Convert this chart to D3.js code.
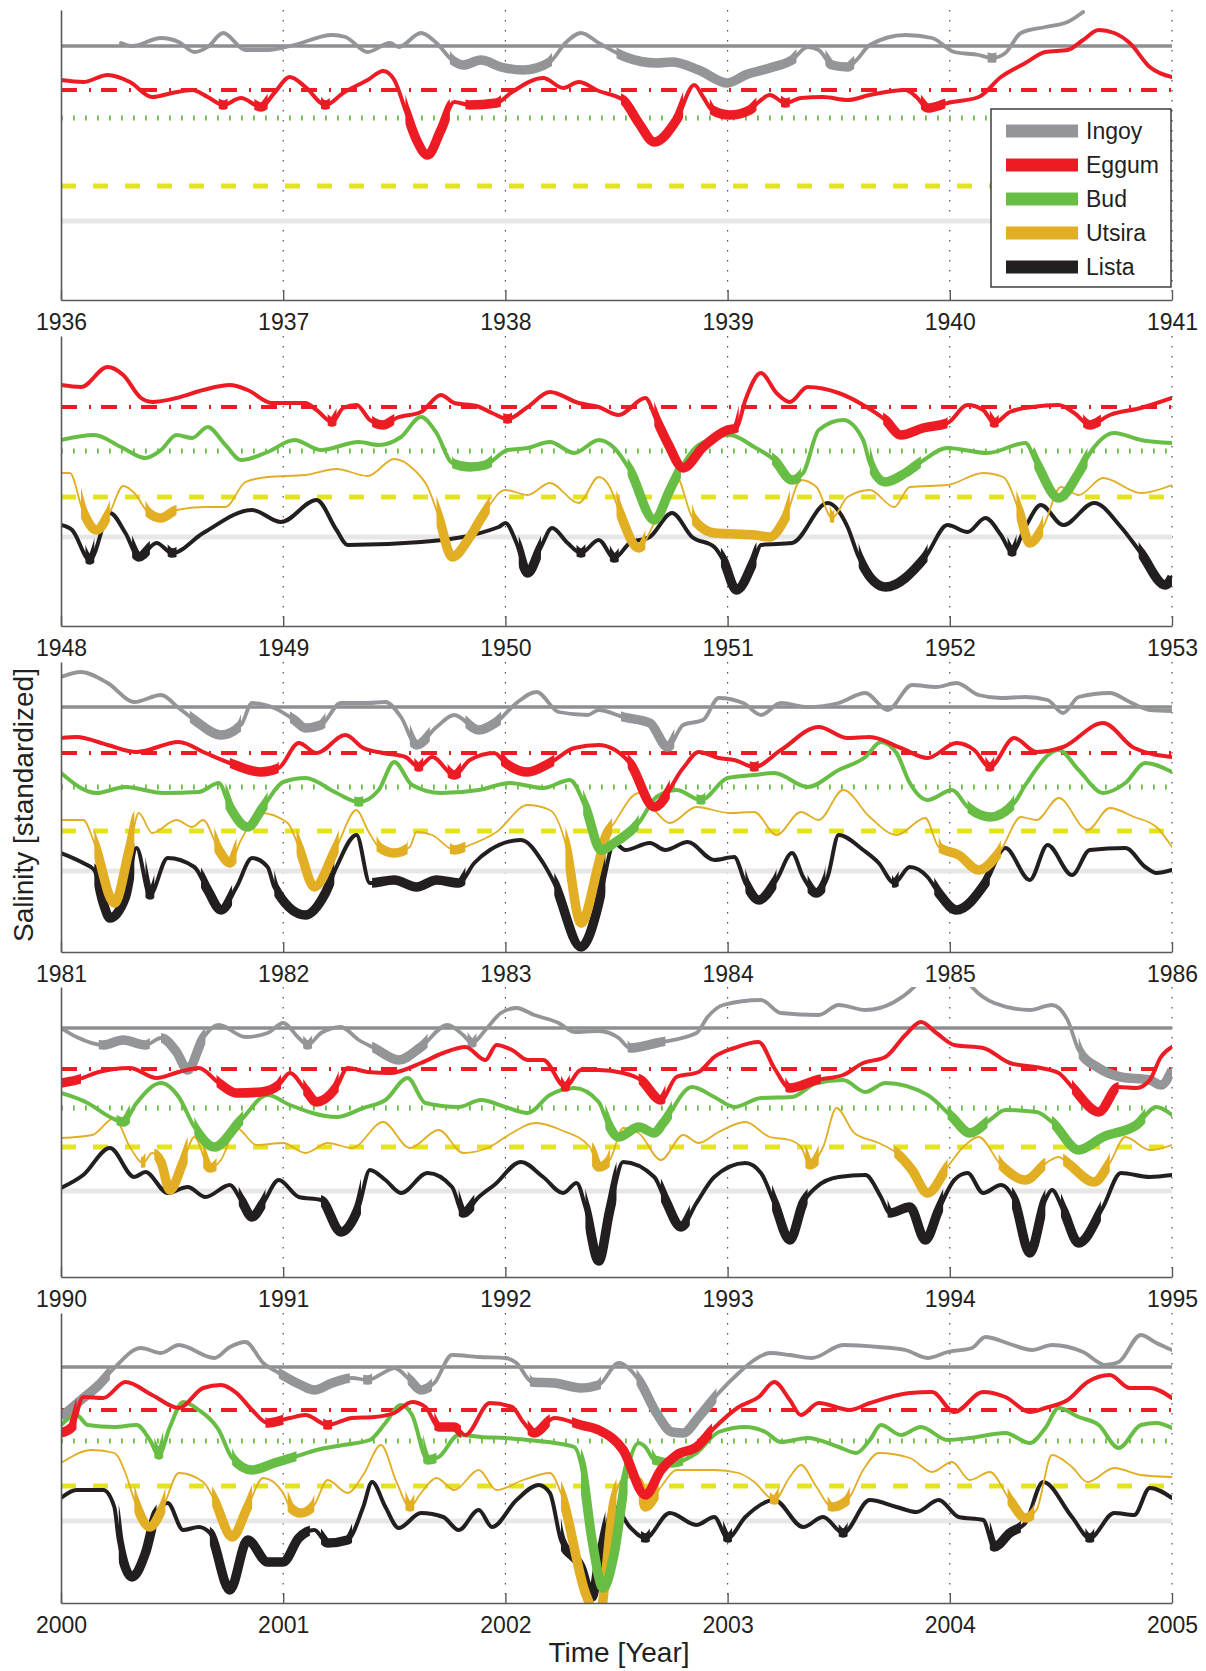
<!DOCTYPE html>
<html>
<head>
<meta charset="utf-8">
<script src="https://cdn.jsdelivr.net/npm/d3@7"></script>
<style>
  body { margin: 0; background: #fff; }
  text { font-family: "Liberation Sans", Arial, sans-serif; fill: #231f20; }
</style>
</head>
<body>
<div id="chart"></div>
<script>
var stations = ["Ingoy", "Eggum", "Bud", "Utsira", "Lista"];
var panelYears = [1936, 1948, 1981, 1990, 2000];
var tickYears = [
  [1936, 1937, 1938, 1939, 1940, 1941],
  [1948, 1949, 1950, 1951, 1952, 1953],
  [1981, 1982, 1983, 1984, 1985, 1986],
  [1990, 1991, 1992, 1993, 1994, 1995],
  [2000, 2001, 2002, 2003, 2004, 2005]
];
// threshold level of each station (Ingoy, Eggum, Bud, Utsira, Lista), per panel
var thresholds = [
  [25.4, 21.0, 18.2, 11.4, 7.9],
  [null, 21.9, 17.5, 12.9, 8.9],
  [24.5, 19.9, 16.5, 12.1, 8.1],
  [24.9, 20.8, 16.9, 13.0, 8.6],
  [23.6, 19.3, 16.2, 11.7, 8.2]
];

// ---- 1936-1941
var ingoy_1936 = [[1936.27,25.7],[1936.32,25.4],[1936.45,26.2],[1936.53,25.8],[1936.60,24.8],[1936.66,25.3],[1936.73,26.7],[1936.83,25.0],[1936.93,25.0],[1937.05,25.5],[1937.22,26.5],[1937.28,26.3],[1937.38,24.8],[1937.48,25.7],[1937.52,25.3],[1937.62,26.7],[1937.69,25.7],[1937.76,24.0],[1937.81,23.5],[1937.89,24.0],[1937.98,23.3],[1938.08,23.0],[1938.20,23.8],[1938.27,25.7],[1938.34,26.7],[1938.42,25.7],[1938.54,24.3],[1938.68,23.7],[1938.75,23.8],[1938.87,23.0],[1939.00,21.7],[1939.08,22.5],[1939.19,23.2],[1939.29,24.0],[1939.36,25.3],[1939.41,25.0],[1939.47,23.5],[1939.54,23.3],[1939.58,24.0],[1939.64,25.5],[1939.80,26.5],[1939.92,26.2],[1940.02,24.8],[1940.13,24.5],[1940.19,24.2],[1940.25,24.7],[1940.32,26.7],[1940.43,27.3],[1940.53,27.8],[1940.60,28.8]];
var ingoy_1936_low = [[1937.75,1938.21],[1938.5,1939.31],[1939.44,1939.57],[1940.17,1940.21]];
var eggum_1936 = [[1936.0,22.0],[1936.10,21.8],[1936.21,22.5],[1936.31,21.8],[1936.41,20.3],[1936.50,20.7],[1936.59,21.0],[1936.66,20.3],[1936.73,19.5],[1936.81,20.2],[1936.90,19.3],[1936.96,20.7],[1937.03,22.3],[1937.10,21.3],[1937.19,19.5],[1937.27,20.7],[1937.38,22.0],[1937.45,22.9],[1937.50,22.0],[1937.55,19.0],[1937.60,16.0],[1937.65,14.5],[1937.71,17.0],[1937.77,19.8],[1937.84,19.5],[1937.96,19.7],[1938.03,20.8],[1938.17,22.2],[1938.26,21.2],[1938.33,21.8],[1938.42,20.9],[1938.53,20.0],[1938.60,17.7],[1938.67,15.8],[1938.77,18.0],[1938.85,21.5],[1938.89,20.3],[1938.93,19.0],[1939.01,18.5],[1939.10,19.0],[1939.14,19.8],[1939.19,20.5],[1939.26,19.7],[1939.33,20.2],[1939.43,20.3],[1939.54,20.0],[1939.64,20.5],[1939.80,21.0],[1939.85,20.3],[1939.90,19.2],[1939.99,19.7],[1940.13,20.3],[1940.23,22.3],[1940.34,23.7],[1940.43,24.8],[1940.53,25.0],[1940.60,26.0],[1940.67,27.0],[1940.74,26.7],[1940.81,25.7],[1940.90,23.3],[1941.0,22.3]];
var eggum_1936_low = [[1936.71,1936.75],[1936.87,1936.93],[1937.17,1937.21],[1937.55,1937.75],[1937.82,1937.98],[1938.52,1938.80],[1938.92,1939.13],[1939.24,1939.28],[1939.87,1939.98]];

// ---- 1948-1953
var eggum_1948 = [[1948.0,24.1],[1948.09,23.9],[1948.21,25.9],[1948.28,25.1],[1948.36,22.8],[1948.41,22.4],[1948.52,22.8],[1948.64,23.6],[1948.76,24.1],[1948.84,23.6],[1948.95,22.3],[1949.10,22.3],[1949.15,21.6],[1949.22,20.4],[1949.27,21.8],[1949.33,22.1],[1949.39,20.6],[1949.45,20.1],[1949.51,20.8],[1949.62,21.4],[1949.71,23.1],[1949.77,22.3],[1949.87,22.0],[1949.94,21.3],[1950.01,20.7],[1950.10,21.9],[1950.20,23.4],[1950.33,22.3],[1950.42,21.9],[1950.51,21.1],[1950.63,22.8],[1950.68,20.6],[1950.73,18.3],[1950.80,15.8],[1950.89,17.9],[1951.00,19.6],[1951.04,19.8],[1951.08,22.6],[1951.15,25.3],[1951.22,23.3],[1951.28,22.4],[1951.36,23.9],[1951.50,23.3],[1951.61,22.1],[1951.71,20.6],[1951.78,19.1],[1951.88,19.8],[1951.99,20.3],[1952.08,22.1],[1952.15,21.6],[1952.20,20.3],[1952.27,21.4],[1952.37,21.9],[1952.49,22.1],[1952.56,21.3],[1952.63,20.1],[1952.72,21.1],[1952.86,21.8],[1953.0,22.8]];
var eggum_1948_low = [[1949.20,1949.24],[1949.40,1949.50],[1949.99,1950.03],[1950.67,1951.05],[1951.70,1951.99],[1952.18,1952.22],[1952.60,1952.68]];
var bud_1948 = [[1948.0,18.6],[1948.15,19.1],[1948.27,17.9],[1948.38,16.8],[1948.45,17.6],[1948.52,19.1],[1948.59,18.8],[1948.66,19.9],[1948.74,18.1],[1948.81,16.6],[1948.93,17.4],[1949.05,18.6],[1949.17,17.6],[1949.34,18.4],[1949.43,18.1],[1949.53,18.9],[1949.62,20.9],[1949.69,19.3],[1949.76,16.3],[1949.84,15.9],[1949.91,16.1],[1950.01,17.6],[1950.10,17.8],[1950.20,18.4],[1950.31,17.3],[1950.42,18.6],[1950.49,17.8],[1950.56,15.6],[1950.67,10.6],[1950.74,13.6],[1950.79,15.8],[1950.87,18.1],[1951.01,19.1],[1951.12,17.9],[1951.21,16.6],[1951.29,14.6],[1951.34,15.3],[1951.41,19.6],[1951.52,20.6],[1951.61,18.6],[1951.64,16.3],[1951.71,14.4],[1951.80,15.3],[1951.87,16.4],[1951.99,17.8],[1952.17,17.3],[1952.34,18.3],[1952.39,16.3],[1952.49,12.8],[1952.58,15.3],[1952.64,17.6],[1952.74,19.3],[1952.86,18.6],[1953.0,18.3]];
var bud_1948_low = [[1949.76,1949.94],[1950.55,1950.79],[1951.20,1951.33],[1951.64,1951.87],[1952.38,1952.62]];
var utsira_1948 = [[1948.0,15.3],[1948.04,15.3],[1948.10,11.4],[1948.16,9.6],[1948.22,11.4],[1948.28,14.0],[1948.33,13.3],[1948.39,11.4],[1948.45,10.8],[1948.52,11.6],[1948.65,11.9],[1948.74,11.9],[1948.83,14.4],[1948.93,14.9],[1949.10,15.1],[1949.24,15.7],[1949.38,15.0],[1949.50,16.7],[1949.59,15.6],[1949.65,13.9],[1949.70,10.9],[1949.76,6.9],[1949.84,8.9],[1949.90,11.1],[1950.00,13.6],[1950.10,13.1],[1950.20,14.3],[1950.33,12.3],[1950.42,14.9],[1950.47,13.9],[1950.51,11.6],[1950.60,7.8],[1950.67,10.3],[1950.77,14.9],[1950.84,10.9],[1950.94,9.3],[1951.12,9.1],[1951.19,8.9],[1951.26,10.8],[1951.33,14.6],[1951.40,13.9],[1951.47,10.8],[1951.54,12.9],[1951.64,13.6],[1951.75,11.9],[1951.82,13.9],[1951.99,14.1],[1952.15,15.3],[1952.24,14.9],[1952.31,11.6],[1952.36,8.3],[1952.42,9.9],[1952.50,13.9],[1952.58,13.1],[1952.69,14.8],[1952.86,13.3],[1953.0,14.1]];
var utsira_1948_low = [[1948.09,1948.22],[1948.38,1948.52],[1949.69,1949.93],[1950.50,1950.63],[1950.84,1951.28],[1951.46,1951.48],[1952.30,1952.42]];
var lista_1948 = [[1948.0,10.1],[1948.05,9.6],[1948.13,6.6],[1948.22,11.3],[1948.29,9.3],[1948.35,6.9],[1948.43,8.3],[1948.50,7.3],[1948.64,9.3],[1948.86,11.6],[1948.99,10.4],[1949.15,12.6],[1949.24,9.6],[1949.29,8.1],[1949.62,8.4],[1949.97,9.9],[1950.0,10.3],[1950.05,8.3],[1950.10,5.3],[1950.16,7.9],[1950.21,9.8],[1950.28,8.3],[1950.34,7.3],[1950.42,8.6],[1950.49,6.8],[1950.56,8.3],[1950.65,8.9],[1950.75,11.3],[1950.84,8.9],[1950.94,7.9],[1950.98,6.6],[1951.04,3.6],[1951.12,6.6],[1951.15,8.1],[1951.29,8.3],[1951.45,12.3],[1951.54,9.9],[1951.59,6.9],[1951.71,3.9],[1951.89,6.9],[1951.99,10.1],[1952.08,9.4],[1952.16,10.8],[1952.23,9.1],[1952.28,7.4],[1952.34,9.9],[1952.41,12.1],[1952.51,10.1],[1952.65,12.3],[1952.77,9.9],[1952.86,7.3],[1952.97,4.1],[1953.0,4.9]];
var lista_1948_low = [[1948.11,1948.15],[1948.32,1948.40],[1948.48,1948.52],[1950.06,1950.16],[1950.32,1950.36],[1950.47,1950.51],[1950.97,1951.13],[1951.59,1951.90],[1952.26,1952.30],[1952.85,1953.0]];

// ---- 1981-1986
var ingoy_1981 = [[1981.0,27.5],[1981.09,28.0],[1981.21,26.9],[1981.33,25.0],[1981.45,25.7],[1981.53,24.4],[1981.60,23.2],[1981.72,21.7],[1981.81,22.7],[1981.86,24.9],[1981.96,24.4],[1982.05,23.2],[1982.10,22.4],[1982.17,22.7],[1982.26,24.9],[1982.38,24.9],[1982.46,25.0],[1982.53,23.5],[1982.60,20.7],[1982.69,22.5],[1982.77,23.7],[1982.88,22.2],[1982.96,23.0],[1983.05,24.9],[1983.14,26.0],[1983.24,24.0],[1983.37,23.7],[1983.42,24.2],[1983.53,23.5],[1983.65,22.9],[1983.73,20.5],[1983.80,22.7],[1983.89,23.2],[1983.96,25.4],[1984.07,24.9],[1984.15,23.7],[1984.24,24.9],[1984.36,24.5],[1984.50,24.9],[1984.62,25.9],[1984.72,24.2],[1984.83,26.7],[1984.94,26.5],[1985.03,26.9],[1985.13,25.7],[1985.23,25.4],[1985.34,25.5],[1985.44,25.2],[1985.51,23.9],[1985.58,25.5],[1985.72,25.9],[1985.81,25.0],[1985.90,24.2],[1986.0,24.1]];
var ingoy_1981_low = [[1981.58,1981.81],[1982.03,1982.19],[1982.57,1982.66],[1982.82,1982.98],[1983.52,1983.76]];
var eggum_1981 = [[1981.0,21.4],[1981.07,21.5],[1981.21,20.7],[1981.34,20.0],[1981.53,21.0],[1981.65,19.9],[1981.76,18.9],[1981.90,18.0],[1981.98,18.4],[1982.07,20.9],[1982.15,19.9],[1982.28,21.7],[1982.36,20.4],[1982.45,19.9],[1982.55,19.5],[1982.61,18.5],[1982.67,19.5],[1982.77,17.7],[1982.84,19.2],[1982.95,19.9],[1983.00,18.9],[1983.10,18.0],[1983.20,18.9],[1983.31,20.4],[1983.42,20.7],[1983.56,18.9],[1983.67,14.5],[1983.80,18.4],[1983.87,20.0],[1983.96,19.4],[1984.03,19.2],[1984.12,18.5],[1984.24,20.2],[1984.41,22.5],[1984.54,21.4],[1984.64,21.5],[1984.78,20.4],[1984.90,19.4],[1985.03,20.9],[1985.11,20.2],[1985.18,18.5],[1985.29,21.4],[1985.39,20.0],[1985.51,20.5],[1985.69,22.9],[1985.83,20.4],[1986.0,19.5]];
var eggum_1981_low = [[1981.76,1981.98],[1982.59,1982.63],[1982.74,1982.80],[1982.98,1983.22],[1983.55,1983.74],[1984.10,1984.14],[1985.16,1985.20]];
var bud_1981 = [[1981.0,17.9],[1981.16,15.9],[1981.29,16.5],[1981.46,15.9],[1981.62,16.0],[1981.71,16.9],[1981.76,14.5],[1981.84,12.5],[1981.91,14.5],[1982.00,17.0],[1982.10,17.4],[1982.24,15.9],[1982.34,15.0],[1982.43,16.2],[1982.50,19.0],[1982.58,16.7],[1982.71,15.9],[1982.88,16.2],[1983.02,16.9],[1983.17,16.4],[1983.29,17.2],[1983.36,14.5],[1983.43,10.2],[1983.49,10.9],[1983.60,12.9],[1983.68,15.5],[1983.77,16.2],[1983.88,15.2],[1984.00,17.4],[1984.12,17.7],[1984.21,17.9],[1984.36,16.5],[1984.50,18.2],[1984.62,19.5],[1984.69,21.0],[1984.76,19.9],[1984.82,16.9],[1984.90,15.2],[1985.01,16.2],[1985.08,14.5],[1985.18,13.5],[1985.29,14.9],[1985.34,16.7],[1985.49,20.2],[1985.58,18.2],[1985.69,15.9],[1985.79,16.9],[1985.88,18.9],[1986.0,18.0]];
var bud_1981_low = [[1981.74,1981.93],[1982.32,1982.36],[1983.35,1983.60],[1983.86,1983.90],[1985.08,1985.29]];
var utsira_1981 = [[1981.0,13.2],[1981.10,13.2],[1981.15,10.9],[1981.24,4.9],[1981.31,10.5],[1981.35,13.9],[1981.41,11.9],[1981.52,13.2],[1981.59,12.5],[1981.64,13.2],[1981.71,10.2],[1981.76,8.9],[1981.81,11.2],[1981.90,13.9],[1982.02,12.9],[1982.07,10.5],[1982.14,6.5],[1982.24,10.5],[1982.33,14.2],[1982.38,12.2],[1982.43,10.5],[1982.50,9.9],[1982.57,10.5],[1982.60,12.0],[1982.67,11.7],[1982.77,10.2],[1982.84,10.7],[1982.96,12.0],[1983.10,14.7],[1983.20,14.2],[1983.27,10.9],[1983.34,2.9],[1983.42,8.9],[1983.45,11.5],[1983.49,12.9],[1983.60,15.9],[1983.67,14.2],[1983.74,12.9],[1983.86,14.5],[1984.01,13.9],[1984.12,14.0],[1984.22,11.7],[1984.33,14.0],[1984.41,13.2],[1984.52,16.2],[1984.64,13.5],[1984.76,11.7],[1984.89,13.4],[1984.95,10.5],[1985.04,9.7],[1985.13,8.2],[1985.23,10.2],[1985.32,13.5],[1985.39,13.2],[1985.49,15.4],[1985.62,12.2],[1985.72,14.4],[1985.83,13.5],[1985.93,12.5],[1986.0,10.5]];
var utsira_1981_low = [[1981.15,1981.33],[1981.69,1981.79],[1982.06,1982.25],[1982.42,1982.56],[1982.75,1982.82],[1983.27,1983.48],[1984.95,1985.23]];
var lista_1981 = [[1981.0,9.9],[1981.10,8.9],[1981.15,8.2],[1981.19,4.9],[1981.22,3.4],[1981.29,5.5],[1981.34,10.4],[1981.40,5.7],[1981.48,9.4],[1981.60,8.5],[1981.66,6.2],[1981.72,4.2],[1981.79,6.5],[1981.86,9.4],[1981.93,8.5],[1981.96,6.5],[1982.10,3.7],[1982.19,5.9],[1982.24,8.5],[1982.33,11.7],[1982.39,6.9],[1982.50,7.2],[1982.60,6.5],[1982.69,7.2],[1982.79,6.9],[1982.86,8.9],[1982.93,10.2],[1983.07,11.2],[1983.17,8.9],[1983.22,6.9],[1983.34,0.5],[1983.42,4.9],[1983.44,6.9],[1983.49,10.9],[1983.54,10.2],[1983.65,10.9],[1983.72,10.2],[1983.82,11.0],[1983.94,9.2],[1984.03,9.5],[1984.08,6.9],[1984.14,5.2],[1984.22,7.2],[1984.29,9.9],[1984.34,7.5],[1984.40,5.9],[1984.45,7.5],[1984.50,11.7],[1984.61,10.2],[1984.68,8.9],[1984.75,6.9],[1984.82,8.5],[1984.90,7.5],[1984.95,5.9],[1985.03,4.2],[1985.16,6.9],[1985.25,10.4],[1985.36,7.2],[1985.44,10.7],[1985.55,7.7],[1985.63,10.2],[1985.79,10.4],[1985.88,8.5],[1985.93,7.9],[1986.0,8.2]];
var lista_1981_low = [[1981.15,1981.33],[1981.38,1981.42],[1981.63,1981.77],[1981.96,1982.23],[1982.40,1982.82],[1983.22,1983.45],[1984.08,1984.22],[1984.36,1984.44],[1984.74,1984.77],[1984.93,1985.18]];

// ---- 1990-1995
var ingoy_1990 = [[1990.0,24.9],[1990.07,24.0],[1990.19,23.2],[1990.28,23.7],[1990.38,23.2],[1990.45,23.9],[1990.52,22.5],[1990.57,20.7],[1990.64,23.9],[1990.71,25.2],[1990.83,24.0],[1990.93,24.4],[1991.00,25.4],[1991.07,23.9],[1991.11,23.2],[1991.17,24.4],[1991.26,25.0],[1991.34,23.7],[1991.41,22.9],[1991.52,21.7],[1991.62,23.0],[1991.74,25.2],[1991.81,24.2],[1991.85,23.4],[1991.91,24.7],[1991.98,26.4],[1992.05,26.9],[1992.13,26.2],[1992.24,25.4],[1992.31,24.5],[1992.42,24.6],[1992.51,23.9],[1992.56,22.9],[1992.68,23.4],[1992.86,24.4],[1992.91,26.0],[1992.98,27.2],[1993.15,27.7],[1993.24,26.4],[1993.41,26.2],[1993.50,27.2],[1993.62,26.7],[1993.75,27.5],[1993.84,29.0],[1993.90,30.5],[1994.0,null],[1994.05,30.5],[1994.10,29.0],[1994.20,27.4],[1994.36,26.7],[1994.46,27.2],[1994.53,25.7],[1994.58,22.7],[1994.67,20.9],[1994.77,20.0],[1994.90,19.7],[1994.95,19.2],[1995.0,20.7]];
var ingoy_1990_low = [[1990.17,1990.40],[1990.45,1990.65],[1991.09,1991.13],[1991.40,1991.65],[1991.83,1991.87],[1992.55,1992.72],[1994.58,1995.0]];
var eggum_1990 = [[1990.0,19.4],[1990.07,19.7],[1990.17,20.5],[1990.31,20.9],[1990.43,19.9],[1990.53,20.5],[1990.62,20.9],[1990.71,19.4],[1990.79,18.4],[1990.90,18.5],[1990.98,19.2],[1991.03,20.4],[1991.10,18.7],[1991.15,17.5],[1991.24,19.0],[1991.29,20.9],[1991.38,20.5],[1991.48,20.4],[1991.62,21.4],[1991.72,22.4],[1991.82,23.0],[1991.91,21.7],[1991.96,23.2],[1992.03,22.7],[1992.10,21.7],[1992.17,21.7],[1992.27,19.0],[1992.34,20.7],[1992.42,20.7],[1992.53,20.4],[1992.61,19.7],[1992.70,17.7],[1992.77,20.0],[1992.87,20.5],[1992.94,22.0],[1993.03,22.9],[1993.14,23.5],[1993.21,20.9],[1993.28,18.9],[1993.40,19.7],[1993.52,20.2],[1993.61,21.4],[1993.71,22.0],[1993.80,24.2],[1993.87,25.5],[1993.94,24.4],[1994.02,23.2],[1994.15,22.9],[1994.27,21.4],[1994.41,20.9],[1994.49,20.4],[1994.55,19.0],[1994.67,16.5],[1994.76,19.0],[1994.84,18.9],[1994.90,19.7],[1994.95,22.0],[1995.0,23.0]];
var eggum_1990_low = [[1990.0,1990.09],[1990.70,1990.99],[1991.09,1991.25],[1992.25,1992.29],[1992.60,1992.72],[1993.26,1993.42],[1994.55,1994.76]];
var bud_1990 = [[1990.0,18.4],[1990.12,17.4],[1990.22,16.0],[1990.28,15.5],[1990.34,17.4],[1990.45,19.4],[1990.53,18.0],[1990.60,15.0],[1990.69,13.0],[1990.81,15.7],[1990.93,18.2],[1991.03,17.2],[1991.24,16.0],[1991.36,16.9],[1991.46,17.7],[1991.56,19.9],[1991.64,17.4],[1991.79,17.0],[1991.89,17.7],[1992.00,17.0],[1992.10,16.4],[1992.20,18.2],[1992.31,18.9],[1992.42,17.5],[1992.46,15.4],[1992.51,14.0],[1992.60,15.0],[1992.67,14.4],[1992.71,15.4],[1992.84,19.0],[1992.94,18.0],[1993.03,17.0],[1993.15,17.9],[1993.29,18.0],[1993.40,19.4],[1993.52,19.7],[1993.62,18.5],[1993.71,19.4],[1993.90,18.2],[1994.01,16.0],[1994.09,14.4],[1994.18,15.7],[1994.25,16.7],[1994.39,16.5],[1994.46,15.5],[1994.58,12.7],[1994.69,14.0],[1994.84,15.2],[1994.93,17.0],[1995.0,16.2]];
var bud_1990_low = [[1990.25,1990.31],[1990.60,1990.82],[1992.45,1992.75],[1993.99,1994.17],[1994.46,1994.88]];
var utsira_1990 = [[1990.0,13.9],[1990.14,14.2],[1990.24,15.9],[1990.31,13.0],[1990.37,11.4],[1990.41,12.4],[1990.45,11.5],[1990.49,8.7],[1990.55,11.5],[1990.60,14.0],[1990.67,10.9],[1990.72,11.7],[1990.79,14.9],[1990.88,13.2],[1991.00,13.4],[1991.10,12.4],[1991.20,13.4],[1991.31,12.9],[1991.45,15.5],[1991.57,12.9],[1991.70,14.7],[1991.81,12.4],[1991.93,13.0],[1992.00,14.0],[1992.14,15.4],[1992.25,14.7],[1992.38,13.0],[1992.42,11.0],[1992.47,11.7],[1992.53,14.9],[1992.60,14.4],[1992.70,11.7],[1992.80,14.2],[1992.87,13.4],[1992.96,14.5],[1993.08,15.5],[1993.19,14.0],[1993.28,13.7],[1993.33,13.0],[1993.37,11.2],[1993.43,13.0],[1993.49,16.9],[1993.57,14.4],[1993.68,13.4],[1993.76,12.4],[1993.83,10.7],[1993.90,8.4],[1993.99,11.0],[1994.06,13.0],[1994.13,14.0],[1994.23,11.2],[1994.34,9.7],[1994.44,11.5],[1994.49,12.0],[1994.53,11.4],[1994.65,9.5],[1994.72,11.4],[1994.79,14.0],[1994.90,12.7],[1995.0,13.2]];
var utsira_1990_low = [[1990.36,1990.38],[1990.42,1990.57],[1990.64,1990.70],[1992.39,1992.47],[1993.35,1993.41],[1993.75,1993.99],[1994.22,1994.43],[1994.51,1994.72]];
var lista_1990 = [[1990.0,8.9],[1990.10,10.2],[1990.22,12.9],[1990.33,10.0],[1990.38,10.5],[1990.48,8.4],[1990.57,9.0],[1990.65,8.0],[1990.76,9.2],[1990.81,7.7],[1990.86,6.0],[1990.91,7.4],[1990.98,9.7],[1991.07,8.0],[1991.17,7.7],[1991.26,4.5],[1991.34,7.0],[1991.39,10.7],[1991.46,9.7],[1991.53,8.4],[1991.65,10.4],[1991.76,9.0],[1991.81,6.4],[1991.88,8.0],[1991.95,9.2],[1992.07,11.5],[1992.17,10.0],[1992.26,8.4],[1992.32,9.4],[1992.36,7.0],[1992.42,1.6],[1992.47,6.7],[1992.53,11.5],[1992.67,10.0],[1992.72,7.7],[1992.79,5.0],[1992.86,7.4],[1992.94,10.0],[1993.08,11.4],[1993.15,10.4],[1993.21,7.4],[1993.28,3.7],[1993.34,7.4],[1993.40,9.0],[1993.50,10.0],[1993.62,10.2],[1993.69,8.0],[1993.73,6.4],[1993.82,7.0],[1993.89,3.7],[1993.95,6.7],[1994.02,9.7],[1994.08,10.4],[1994.15,8.4],[1994.23,9.2],[1994.29,7.7],[1994.36,2.4],[1994.43,7.7],[1994.46,8.7],[1994.51,6.7],[1994.58,3.4],[1994.69,7.0],[1994.77,10.4],[1994.90,10.0],[1995.0,10.2]];
var lista_1990_low = [[1990.80,1990.92],[1991.17,1991.35],[1991.79,1991.86],[1992.36,1992.50],[1992.70,1992.83],[1993.20,1993.36],[1993.72,1993.97],[1994.28,1994.43],[1994.50,1994.68]];

// ---- 2000-2005
var ingoy_2000 = [[2000.0,18.6],[2000.09,20.3],[2000.17,21.8],[2000.24,23.5],[2000.36,25.5],[2000.45,25.0],[2000.53,25.8],[2000.69,24.5],[2000.76,25.6],[2000.83,26.1],[2000.91,24.0],[2000.98,23.0],[2001.08,21.8],[2001.14,21.3],[2001.22,22.0],[2001.31,22.5],[2001.38,22.3],[2001.45,23.0],[2001.50,23.5],[2001.57,22.3],[2001.62,21.3],[2001.68,22.0],[2001.76,24.8],[2001.88,24.6],[2002.00,24.5],[2002.05,24.0],[2002.12,22.1],[2002.22,22.0],[2002.34,21.5],[2002.42,21.8],[2002.51,24.0],[2002.60,22.3],[2002.68,19.0],[2002.75,17.1],[2002.80,17.0],[2002.87,18.6],[2002.96,21.0],[2003.05,23.0],[2003.12,24.3],[2003.19,25.0],[2003.28,24.8],[2003.38,24.5],[2003.52,25.8],[2003.68,25.6],[2003.80,25.3],[2003.90,24.5],[2003.99,25.1],[2004.10,25.5],[2004.16,26.6],[2004.27,25.9],[2004.37,25.3],[2004.46,25.8],[2004.60,25.1],[2004.70,23.8],[2004.76,24.1],[2004.86,26.8],[2004.93,26.0],[2005.0,25.3]];
var ingoy_2000_low = [[2000.0,2000.22],[2000.98,2001.30],[2001.36,2001.40],[2001.56,2001.67],[2002.11,2002.43],[2002.59,2002.95]];
var eggum_2000 = [[2000.0,17.0],[2000.05,17.6],[2000.10,20.6],[2000.19,20.5],[2000.29,22.1],[2000.41,20.8],[2000.53,19.5],[2000.64,21.5],[2000.72,21.8],[2000.79,21.0],[2000.86,19.3],[2000.93,18.0],[2001.03,18.5],[2001.10,18.8],[2001.20,17.8],[2001.31,18.5],[2001.41,18.6],[2001.50,19.0],[2001.58,20.1],[2001.64,19.6],[2001.70,17.6],[2001.77,17.6],[2001.82,16.8],[2001.93,20.0],[2002.03,19.6],[2002.08,18.1],[2002.13,17.0],[2002.22,18.5],[2002.34,17.8],[2002.42,17.3],[2002.53,15.3],[2002.63,10.8],[2002.70,13.3],[2002.77,14.8],[2002.86,15.6],[2002.94,17.5],[2003.05,19.6],[2003.14,20.6],[2003.21,22.1],[2003.28,20.3],[2003.33,18.8],[2003.41,20.0],[2003.55,19.3],[2003.64,20.0],[2003.82,21.0],[2003.92,21.1],[2004.02,19.1],[2004.15,21.1],[2004.25,20.6],[2004.36,19.1],[2004.43,19.5],[2004.53,20.3],[2004.62,22.1],[2004.72,22.8],[2004.81,21.5],[2004.90,21.5],[2005.0,20.5]];
var eggum_2000_low = [[2000.0,2000.07],[2000.92,2001.0],[2001.18,2001.22],[2001.68,2001.80],[2002.10,2002.20],[2002.30,2002.93]];
var bud_2000 = [[2000.0,17.8],[2000.07,18.8],[2000.12,17.8],[2000.24,17.6],[2000.34,17.8],[2000.40,16.3],[2000.44,14.8],[2000.49,17.6],[2000.55,20.1],[2000.62,19.3],[2000.71,17.3],[2000.77,14.5],[2000.86,13.3],[2000.96,14.0],[2001.05,14.6],[2001.15,15.3],[2001.27,15.8],[2001.39,16.3],[2001.46,18.0],[2001.53,19.8],[2001.58,18.8],[2001.65,14.3],[2001.70,14.6],[2001.79,16.8],[2001.89,16.6],[2002.00,16.5],[2002.10,16.3],[2002.22,16.0],[2002.31,15.6],[2002.34,14.0],[2002.39,6.3],[2002.44,1.5],[2002.49,5.0],[2002.54,12.3],[2002.60,16.0],[2002.63,15.6],[2002.67,14.3],[2002.75,14.0],[2002.86,15.0],[2002.96,17.1],[2003.08,17.6],[2003.17,17.1],[2003.24,16.1],[2003.36,16.5],[2003.50,15.6],[2003.58,15.0],[2003.64,16.3],[2003.69,17.8],[2003.78,16.8],[2003.87,17.6],[2003.99,16.3],[2004.09,16.5],[2004.25,17.0],[2004.36,16.0],[2004.43,17.5],[2004.49,19.5],[2004.58,18.6],[2004.67,17.8],[2004.76,15.5],[2004.86,17.8],[2004.93,18.0],[2005.0,17.5]];
var bud_2000_low = [[2000.42,2000.46],[2000.77,2001.06],[2001.63,2001.69],[2002.34,2002.55],[2002.66,2002.80]];
var utsira_2000 = [[2000.0,14.0],[2000.14,15.3],[2000.24,15.0],[2000.29,13.0],[2000.33,10.3],[2000.40,7.6],[2000.46,9.6],[2000.53,13.0],[2000.64,12.1],[2000.69,10.3],[2000.77,6.6],[2000.84,9.6],[2000.91,12.5],[2001.00,11.0],[2001.03,9.6],[2001.08,9.0],[2001.14,9.8],[2001.20,12.3],[2001.29,11.0],[2001.36,12.8],[2001.44,15.8],[2001.51,12.1],[2001.57,9.6],[2001.62,11.0],[2001.69,12.5],[2001.77,11.3],[2001.88,13.3],[2001.96,11.3],[2002.08,12.3],[2002.20,13.0],[2002.25,11.0],[2002.36,1.0],[2002.42,-1.5],[2002.49,10.3],[2002.54,12.6],[2002.60,12.1],[2002.63,9.6],[2002.70,11.6],[2002.77,13.3],[2002.94,13.3],[2003.05,13.0],[2003.12,12.1],[2003.21,10.3],[2003.28,12.6],[2003.33,13.8],[2003.40,11.6],[2003.47,9.6],[2003.54,10.3],[2003.61,13.3],[2003.68,15.0],[2003.82,14.5],[2003.92,13.1],[2004.01,14.1],[2004.09,12.3],[2004.18,13.1],[2004.27,10.3],[2004.34,8.5],[2004.39,9.3],[2004.46,14.8],[2004.55,13.6],[2004.62,12.1],[2004.74,13.5],[2004.86,12.8],[2005.0,12.6]];
var utsira_2000_low = [[2000.33,2000.47],[2000.68,2000.86],[2001.02,2001.14],[2001.55,2001.59],[2002.25,2002.50],[2002.60,2002.69],[2003.19,2003.23],[2003.45,2003.55],[2004.26,2004.38]];
var lista_2000 = [[2000.0,10.5],[2000.07,11.3],[2000.19,11.3],[2000.24,9.6],[2000.26,6.3],[2000.32,2.6],[2000.38,5.0],[2000.43,9.0],[2000.48,10.0],[2000.55,7.3],[2000.62,7.6],[2000.67,7.0],[2000.76,1.3],[2000.84,6.3],[2000.93,4.1],[2001.00,4.1],[2001.07,6.5],[2001.14,7.3],[2001.20,6.0],[2001.29,6.3],[2001.36,9.6],[2001.40,12.1],[2001.46,9.6],[2001.52,7.5],[2001.62,9.0],[2001.72,8.6],[2001.79,7.3],[2001.88,9.3],[2001.94,7.6],[2002.05,10.3],[2002.15,11.8],[2002.20,11.0],[2002.25,6.3],[2002.34,3.6],[2002.39,0.6],[2002.42,4.0],[2002.49,9.6],[2002.56,7.6],[2002.63,6.5],[2002.74,9.0],[2002.86,7.8],[2002.94,8.6],[2003.00,6.5],[2003.08,8.6],[2003.21,10.3],[2003.34,7.6],[2003.43,8.6],[2003.52,7.0],[2003.64,10.3],[2003.76,9.6],[2003.85,9.1],[2003.95,10.3],[2004.04,8.6],[2004.15,8.3],[2004.20,5.6],[2004.27,7.0],[2004.34,8.0],[2004.42,12.1],[2004.55,8.6],[2004.63,6.5],[2004.74,9.0],[2004.83,8.8],[2004.90,11.5],[2005.0,10.5]];
var lista_2000_low = [[2000.26,2000.43],[2000.67,2001.12],[2001.17,2001.31],[2002.25,2002.45],[2002.61,2002.65],[2002.98,2003.02],[2003.50,2003.54],[2004.18,2004.32],[2004.61,2004.65]];

var series = [
  { Ingoy: ingoy_1936, Eggum: eggum_1936 },
  { Eggum: eggum_1948, Bud: bud_1948, Utsira: utsira_1948, Lista: lista_1948 },
  { Ingoy: ingoy_1981, Eggum: eggum_1981, Bud: bud_1981, Utsira: utsira_1981, Lista: lista_1981 },
  { Ingoy: ingoy_1990, Eggum: eggum_1990, Bud: bud_1990, Utsira: utsira_1990, Lista: lista_1990 },
  { Ingoy: ingoy_2000, Eggum: eggum_2000, Bud: bud_2000, Utsira: utsira_2000, Lista: lista_2000 }
];
var lows = [
  { Ingoy: ingoy_1936_low, Eggum: eggum_1936_low },
  { Eggum: eggum_1948_low, Bud: bud_1948_low, Utsira: utsira_1948_low, Lista: lista_1948_low },
  { Ingoy: ingoy_1981_low, Eggum: eggum_1981_low, Bud: bud_1981_low, Utsira: utsira_1981_low, Lista: lista_1981_low },
  { Ingoy: ingoy_1990_low, Eggum: eggum_1990_low, Bud: bud_1990_low, Utsira: utsira_1990_low, Lista: lista_1990_low },
  { Ingoy: ingoy_2000_low, Eggum: eggum_2000_low, Bud: bud_2000_low, Utsira: utsira_2000_low, Lista: lista_2000_low }
];

// styles
var colors = { Ingoy: "#939598", Eggum: "#ed1c24", Bud: "#68bd45", Utsira: "#e1ae24", Lista: "#231f20" };
var lineWidth = { Ingoy: 3.8, Eggum: 4, Bud: 4, Utsira: 1.8, Lista: 4 };
var lowWidth = 9.5;
var refStyle = {
  Ingoy:  { stroke: "#8d8e91", width: 3.4, dash: null },
  Eggum:  { stroke: "#ed1c24", width: 4.2, dash: "16,12,2,10" },
  Bud:    { stroke: "#68bd45", width: 5, dash: "1.8,10.2" },
  Utsira: { stroke: "#e4e41c", width: 5, dash: "15,17" },
  Lista:  { stroke: "#e7e7e8", width: 5, dash: null }
};
var drawOrder = ["Lista", "Utsira", "Bud", "Ingoy", "Eggum"];

var width = 1206, height = 1671;
var left = 61, right = 1172, panelH = 290;
var panelBottom = [300, 626, 952, 1277, 1603];
var fontFamily = '"Liberation Sans", Arial, sans-serif';

var svg = d3.select("#chart")
  .append("svg")
  .attr("width", width)
  .attr("height", height)
  .style("background", "#fff");
var defs = svg.append("defs");

panelYears.forEach(function(start, p) {
  var bottom = panelBottom[p];
  var top = bottom - panelH;

  var x = d3.scaleLinear().domain([start, start + 5]).range([left, right]);
  var y = d3.scaleLinear().domain([0, 29]).range([bottom, top]);

  var g = svg.append("g").attr("class", "panel panel-" + start);

  // dotted year grid
  g.selectAll(".grid")
    .data(tickYears[p].slice(1))
    .enter().append("line")
    .attr("class", "grid")
    .attr("x1", function(d) { return x(d); })
    .attr("x2", function(d) { return x(d); })
    .attr("y1", top)
    .attr("y2", bottom)
    .attr("stroke", "#4d4d4f")
    .attr("stroke-width", 1.2)
    .attr("stroke-dasharray", "1.5,8.5");

  var clipId = "panel-clip-" + p;
  defs.append("clipPath").attr("id", clipId)
    .append("rect")
    .attr("x", left).attr("y", top)
    .attr("width", right - left).attr("height", panelH);

  // threshold lines
  stations.forEach(function(s, i) {
    var lvl = thresholds[p][i];
    if (lvl == null) return;
    var st = refStyle[s];
    g.append("line")
      .attr("class", "ref ref-" + s)
      .attr("x1", left).attr("x2", right)
      .attr("y1", y(lvl)).attr("y2", y(lvl))
      .attr("stroke", st.stroke)
      .attr("stroke-width", st.width)
      .attr("stroke-dasharray", st.dash);
  });

  var line = d3.line()
    .defined(function(d) { return d[1] != null; })
    .x(function(d) { return x(d[0]); })
    .y(function(d) { return y(d[1]); })
    .curve(d3.curveMonotoneX);

  var lg = g.append("g").attr("clip-path", "url(#" + clipId + ")");

  drawOrder.forEach(function(s) {
    var data = series[p][s];
    if (!data) return;

    lg.append("path")
      .datum(data)
      .attr("d", line)
      .attr("fill", "none")
      .attr("stroke", colors[s])
      .attr("stroke-width", lineWidth[s])
      .attr("stroke-linejoin", "round")
      .attr("stroke-linecap", "round");

    // periods below threshold drawn thick
    var lowId = "low-" + p + "-" + s;
    defs.append("clipPath").attr("id", lowId)
      .selectAll("rect")
      .data(lows[p][s])
      .enter().append("rect")
      .attr("x", function(d) { return x(d[0]); })
      .attr("width", function(d) { return x(d[1]) - x(d[0]); })
      .attr("y", top - 20)
      .attr("height", panelH + 40);

    lg.append("path")
      .datum(data)
      .attr("d", line)
      .attr("clip-path", "url(#" + lowId + ")")
      .attr("fill", "none")
      .attr("stroke", colors[s])
      .attr("stroke-width", lowWidth)
      .attr("stroke-linejoin", "round");
  });

  // axes
  var xAxis = d3.axisBottom(x)
    .tickValues(tickYears[p])
    .tickFormat(d3.format("d"))
    .tickSizeInner(-10)
    .tickSizeOuter(0)
    .tickPadding(14);
  var ax = g.append("g")
    .attr("class", "axis x-axis")
    .attr("transform", "translate(0," + bottom + ")")
    .call(xAxis)
    .attr("font-size", 23)
    .attr("font-family", fontFamily);
  ax.select(".domain").attr("stroke", "#58595b").attr("stroke-width", 1.6);
  ax.selectAll(".tick line").attr("stroke", "#58595b").attr("stroke-width", 1.4);
  ax.selectAll(".tick text").attr("fill", "#231f20");

  var yAxis = d3.axisLeft(y).tickValues([]).tickSizeOuter(0);
  var ay = g.append("g")
    .attr("class", "axis y-axis")
    .attr("transform", "translate(" + left + ",0)")
    .call(yAxis);
  ay.select(".domain").attr("stroke", "#58595b").attr("stroke-width", 1.6);
});

// legend (top panel)
var legend = svg.append("g").attr("class", "legend");
legend.append("rect")
  .attr("x", 991).attr("y", 109)
  .attr("width", 180).attr("height", 178)
  .attr("fill", "#fff")
  .attr("stroke", "#231f20")
  .attr("stroke-width", 1.3);
stations.forEach(function(s, i) {
  var cy = 131 + i * 34;
  legend.append("line")
    .attr("x1", 1006).attr("x2", 1078)
    .attr("y1", cy).attr("y2", cy)
    .attr("stroke", colors[s])
    .attr("stroke-width", 13);
  legend.append("text")
    .attr("x", 1086).attr("y", cy + 8)
    .attr("font-size", 23)
    .text(s);
});

// axis titles
svg.append("text")
  .attr("transform", "translate(33,805) rotate(-90)")
  .attr("text-anchor", "middle")
  .attr("font-size", 28)
  .text("Salinity [standardized]");

svg.append("text")
  .attr("x", 619)
  .attr("y", 1662)
  .attr("text-anchor", "middle")
  .attr("font-size", 28)
  .text("Time [Year]");
</script>
</body>
</html>
